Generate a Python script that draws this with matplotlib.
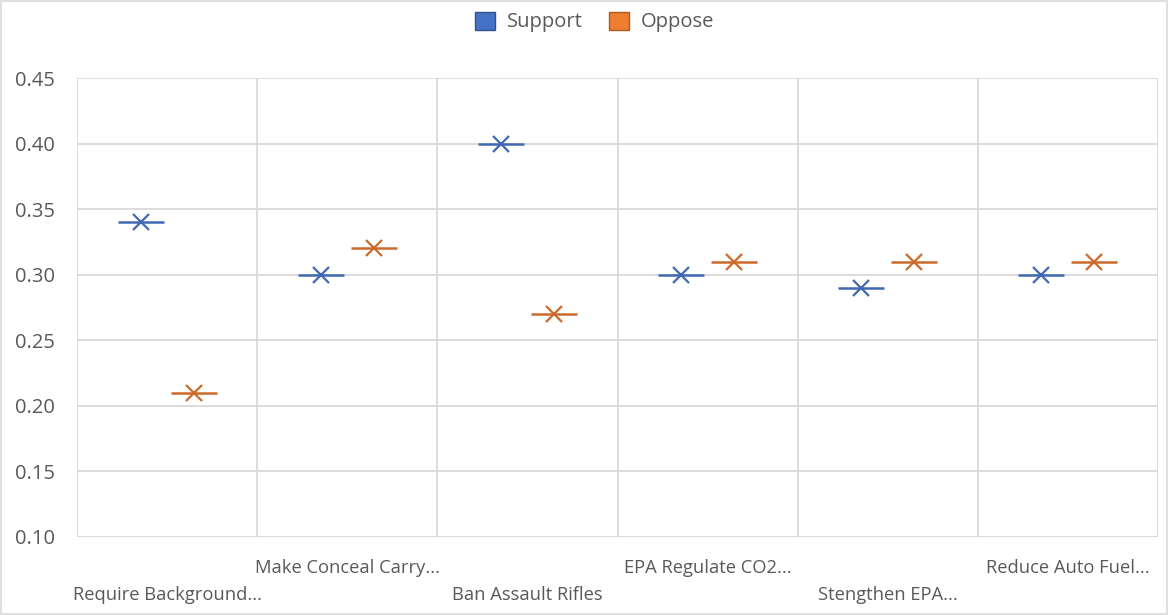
import numpy as np
import matplotlib.pyplot as plt
from matplotlib.patches import Patch, Rectangle
from matplotlib.transforms import blended_transform_factory

plt.rcParams['font.family'] = ['Open Sans', 'DejaVu Sans']

categories = ["Require Background...", "Make Conceal Carry...", "Ban Assault Rifles",
              "EPA Regulate CO2...", "Stengthen EPA...", "Reduce Auto Fuel..."]
support = [0.34, 0.30, 0.40, 0.30, 0.29, 0.30]
oppose = [0.21, 0.32, 0.27, 0.31, 0.31, 0.31]
yticks = [0.10, 0.15, 0.20, 0.25, 0.30, 0.35, 0.40, 0.45]

text_color = "#595959"
grid_color = "#D9D9D9"
blue = "#4472C4"
orange = "#ED7D31"
blue_mark = "#4169B2"
orange_mark = "#CC6A2C"

fig = plt.figure(figsize=(11.68, 6.15), dpi=100)
ax = fig.add_axes([77 / 1168, 1 - 537 / 615, (1158 - 77) / 1168, (537 - 78) / 615])

x = np.arange(len(categories))
off = 0.147
for vals, xs, col in [(support, x - off, blue_mark), (oppose, x + off, orange_mark)]:
    ax.plot(xs, vals, linestyle="none", marker="_", markersize=33,
            markeredgewidth=1.8, color=col)
    ax.plot(xs, vals, linestyle="none", marker="x", markersize=11,
            markeredgewidth=1.6, color=col)

ax.set_xlim(-0.5, len(categories) - 0.5)
ax.set_ylim(0.10, 0.45)
ax.set_yticks(yticks)
ax.set_yticklabels([f"{v:.2f}" for v in yticks])
ax.set_xticks(np.arange(-0.5, len(categories)), minor=False)
ax.set_xticklabels([])
ax.grid(True, color=grid_color, linewidth=1.3)
ax.set_axisbelow(True)
ax.tick_params(length=0, labelsize=14.5, labelcolor=text_color, pad=16)
for s in ax.spines.values():
    s.set_visible(False)

# category labels alternate between two rows
trans = blended_transform_factory(ax.transData, fig.transFigure)
for i, name in enumerate(categories):
    ypos = 1 - 595 / 615 if i % 2 == 0 else 1 - 568 / 615
    ax.text(i, ypos, name, transform=trans, ha="center", va="center",
            fontsize=13.2, color=text_color)

handles = [Patch(facecolor=blue, edgecolor="#2F528F", label="Support"),
           Patch(facecolor=orange, edgecolor="#AE5A21", label="Oppose")]
fig.legend(handles=handles, loc="center", bbox_to_anchor=(0.509, 1 - 22 / 615),
           ncol=2, frameon=False, fontsize=14.5, labelcolor=text_color,
           handlelength=1.0, handleheight=1.0, columnspacing=1.3, handletextpad=0.6)

fig.add_artist(Rectangle((0.001, 0.001), 0.998, 0.998, transform=fig.transFigure,
                         fill=False, edgecolor=grid_color, linewidth=1.2))

fig.savefig("out.png", dpi=100)
